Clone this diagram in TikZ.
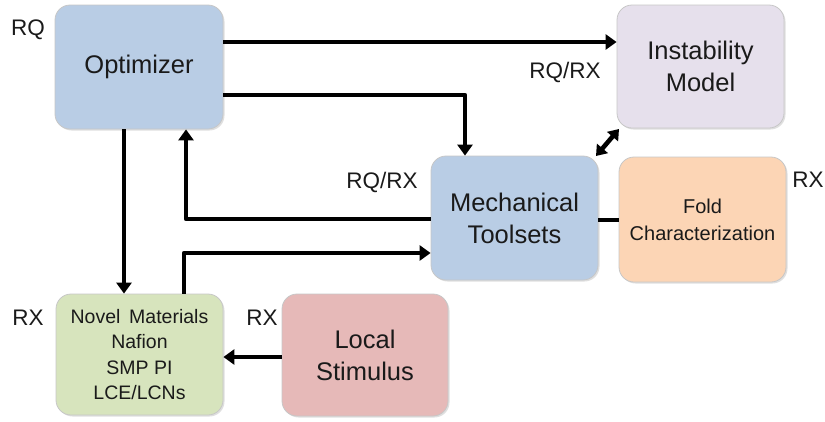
\documentclass[tikz,border=0pt]{standalone}
\usepackage{fontspec}
\setmainfont{Liberation Sans}
\usetikzlibrary{arrows.meta,shadows}
\definecolor{cblue}{HTML}{B9CDE5}
\definecolor{clav}{HTML}{E6E0EC}
\definecolor{corange}{HTML}{FCD5B5}
\definecolor{cgreen}{HTML}{D7E4BD}
\definecolor{cred}{HTML}{E6B9B8}
\definecolor{ctext}{HTML}{1A1A1A}
\tikzset{
  box/.style={rounded corners=15pt, draw=black!22, line width=0.8pt, align=center,
    text=ctext, inner sep=0pt,
    drop shadow={opacity=0.25, shadow xshift=1.5pt, shadow yshift=-1.5pt},
    font=\fontsize{25.5}{32}\selectfont},
  arr/.style={line width=4.6pt, -{Triangle[length=11pt,width=15pt]}, line join=round},
  dbl/.style={line width=4.6pt, {Triangle[length=10pt,width=14pt]}-{Triangle[length=10pt,width=14pt]}},
  plain/.style={line width=4.6pt},
  lbl/.style={text=ctext, font=\fontsize{22.5}{26}\selectfont, inner sep=0pt}
}
\begin{document}
\begin{tikzpicture}[x=1pt,y=-1pt]
\useasboundingbox (0,0) rectangle (825,421);
\node[box, fill=cblue, minimum width=168pt, minimum height=124pt] (opt) at (139,67) {Optimizer};
\node[box, fill=clav, minimum width=167pt, minimum height=123pt] (inst) at (700.5,66.5) {Instability\\Model};
\node[box, fill=cblue, minimum width=167pt, minimum height=124pt] (mech) at (514.5,218) {Mechanical\\Toolsets};
\node[box, fill=corange, minimum width=167pt, minimum height=125pt, font=\fontsize{20}{27}\selectfont] (fold) at (702.5,219.5) {Fold\\Characterization};
\node[box, fill=cgreen, minimum width=167pt, minimum height=121pt, font=\fontsize{19.5}{25.3}\selectfont] (nov) at (139.5,354.5) {Novel\hspace{0.45em}Materials\\Nafion\\SMP PI\\LCE/LCNs};
\node[box, fill=cred, minimum width=166pt, minimum height=122pt] (loc) at (365,355) {Local\\Stimulus};

\node[lbl] (l1) at (28,30) {RQ};
\node[lbl] (l2) at (565,72) {RQ/RX};
\node[lbl] (l3) at (382,182) {RQ/RX};
\node[lbl] (l4) at (808,180) {RX};
\node[lbl] (l5) at (28,318) {RX};
\node[lbl] (l6) at (262,318) {RX};

\draw[arr] (opt.east |- 0,42) -- (inst.west |- 0,42);
\draw[arr] (opt.east |- 0,95) -| (mech.north -| 465,0);
\draw[arr] (opt.south -| 124,0) -- (nov.north -| 124,0);
\draw[arr] (mech.west |- 0,219) -| (opt.south -| 186,0);
\draw[arr] (nov.north -| 184,0) |- (mech.west |- 0,253);
\coordinate (d1) at (596,156);
\coordinate (d2) at (619,129);
\draw[dbl] (d1) -- (d2);
\draw[plain] (mech.east |- 0,220) -- (fold.west |- 0,220);
\draw[arr] (loc.west |- 0,357) -- (nov.east |- 0,357);
\end{tikzpicture}
\end{document}
